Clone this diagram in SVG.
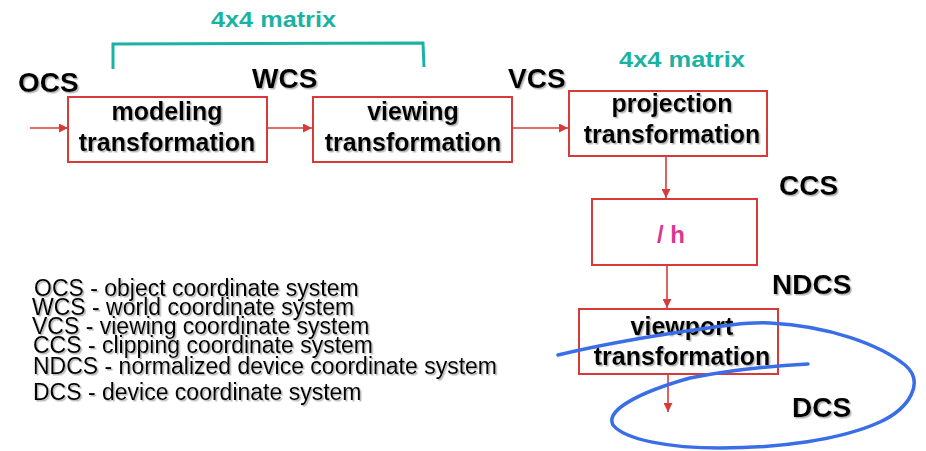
<svg xmlns="http://www.w3.org/2000/svg" width="926" height="451" viewBox="0 0 926 451">
<style>
.box{fill:#fff;stroke:#d83a3a;stroke-width:2}
.bt{font-family:"Liberation Sans",Arial,sans-serif;font-weight:bold;font-size:25px;fill:#000;text-anchor:middle}
.cs{font-family:"Liberation Sans",Arial,sans-serif;font-weight:bold;font-size:28px;fill:#000}
.mx{font-family:"Liberation Sans",Arial,sans-serif;font-weight:bold;font-size:22px;fill:#1ab3a3}
.lg{font-family:"Liberation Sans",Arial,sans-serif;font-size:23px;fill:#000}
.ar{stroke:#d83a3a;stroke-width:1.6;fill:none}
.sh{filter:url(#shadow)}
</style>
<defs>
<filter id="shadow" x="-10%" y="-20%" width="130%" height="150%">
<feDropShadow dx="1.5" dy="1.5" stdDeviation="0.7" flood-color="#777" flood-opacity="0.55"/>
</filter>
<marker id="ah" viewBox="0 0 10 10" refX="10" refY="5" markerWidth="9" markerHeight="9" markerUnits="userSpaceOnUse" orient="auto">
<path d="M0,0 L10,5 L0,10 z" fill="#d83a3a"/>
</marker>
</defs>

<g id="connectors">
<line class="ar" x1="30" y1="128" x2="68" y2="128" marker-end="url(#ah)"/>
<line class="ar" x1="267" y1="128" x2="312" y2="128" marker-end="url(#ah)"/>
<line class="ar" x1="512" y1="128" x2="568" y2="128" marker-end="url(#ah)"/>
<line class="ar" x1="666" y1="156" x2="666" y2="198" marker-end="url(#ah)"/>
<line class="ar" x1="667" y1="265" x2="667" y2="308" marker-end="url(#ah)"/>
<line class="ar" x1="668" y1="374" x2="668" y2="412" marker-end="url(#ah)"/>
<path d="M113,69 L113,44 L423,43 L424,67" fill="none" stroke="#1ab3a3" stroke-width="3"/>
</g>

<g id="modeling">
<rect class="box" x="68" y="97" width="199" height="65"/>
<text class="bt sh" x="167" y="120">modeling</text>
<text class="bt sh" x="167" y="151">transformation</text>
</g>
<g id="viewing">
<rect class="box" x="313" y="97" width="199" height="65"/>
<text class="bt sh" x="413" y="120">viewing</text>
<text class="bt sh" x="413" y="151">transformation</text>
</g>
<g id="projection">
<rect class="box" x="569" y="91" width="198" height="65"/>
<text class="bt sh" x="672" y="112">projection</text>
<text class="bt sh" x="672" y="143">transformation</text>
</g>
<g id="divide">
<rect class="box" x="592" y="199" width="165" height="66"/>
<text x="671" y="243" font-family="Liberation Sans,Arial,sans-serif" font-weight="bold" font-size="24" fill="#dc3590" text-anchor="middle">/ h</text>
</g>
<g id="viewport">
<rect class="box" x="579" y="309" width="199" height="65"/>
<text class="bt sh" x="682" y="335">viewport</text>
<text class="bt sh" x="682" y="365">transformation</text>
</g>

<g id="labels">
<text class="cs sh" x="18" y="92">OCS</text>
<text class="cs sh" x="252" y="88">WCS</text>
<text class="cs sh" x="508" y="88">VCS</text>
<text class="cs sh" x="779" y="195">CCS</text>
<text class="cs sh" x="772" y="294">NDCS</text>
<text class="cs sh" x="792" y="417">DCS</text>
<text class="mx" x="211" y="27" textLength="125" lengthAdjust="spacingAndGlyphs">4x4 matrix</text>
<text class="mx" x="619" y="67" textLength="126" lengthAdjust="spacingAndGlyphs">4x4 matrix</text>
</g>

<g id="legend">
<text class="lg sh" x="34" y="296">OCS - object coordinate system</text>
<text class="lg sh" x="32" y="315">WCS - world coordinate system</text>
<text class="lg sh" x="32" y="334">VCS - viewing coordinate system</text>
<text class="lg sh" x="33" y="353">CCS - clipping coordinate system</text>
<text class="lg sh" x="33" y="374">NDCS - normalized device coordinate system</text>
<text class="lg sh" x="33" y="400">DCS - device coordinate system</text>
</g>

<g id="annotation">
<path d="M558,355 C600,345 640,338 680,332 C720,326 745,322 770,323 C830,326 880,345 905,365 C925,382 910,408 880,422 C840,440 780,448 720,448 C670,448 625,440 613,425 C605,410 640,392 690,378 C730,370 770,366 808,364" fill="none" stroke="#3a6ee6" stroke-width="3.5" stroke-linecap="round"/>
</g>
</svg>
